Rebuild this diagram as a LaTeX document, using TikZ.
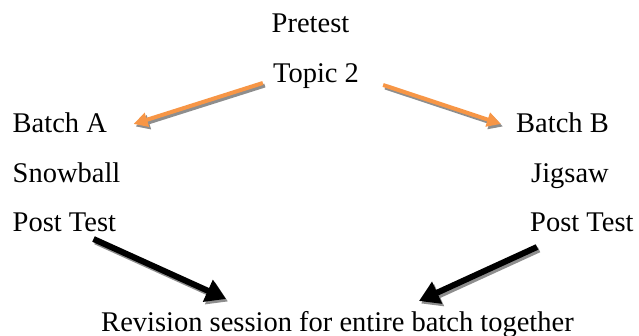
\documentclass[tikz,border=0pt]{standalone}
\usepackage{fontspec}
\setmainfont{Liberation Serif}
\usetikzlibrary{arrows.meta,calc}
\definecolor{arrorange}{HTML}{F79646}
\definecolor{shadowgray}{HTML}{8E8E8E}
\tikzset{
  lbl/.style={inner sep=0pt, font=\fontsize{28.5}{34}\selectfont},
  oarrow/.style={draw=arrorange, line width=4pt, -{Triangle[length=14pt,width=14pt]}},
  oshadow/.style={draw=shadowgray, line width=4pt, -{Triangle[length=14pt,width=14pt]}},
  barrow/.style={draw=black, line width=6pt, -{Triangle[length=20pt,width=23pt]}},
  bshadow/.style={draw=shadowgray, line width=6pt, -{Triangle[length=20pt,width=23pt]}}
}
\begin{document}
\begin{tikzpicture}[x=1pt,y=-1pt]
\useasboundingbox (0,0) rectangle (639,336);
\node[lbl, anchor=base] (pretest) at (310.5,33) {Pretest};
\node[lbl, anchor=base] (topic) at (316,83) {Topic 2};
\node[lbl, anchor=base west] (batchA) at (12.5,133) {Batch A};
\node[lbl, anchor=base west] (snow) at (12.5,183) {Snowball};
\node[lbl, anchor=base west] (postA) at (12.5,232) {Post Test};
\node[lbl, anchor=base west] (batchB) at (516,133) {Batch B};
\node[lbl, anchor=base west] (jig) at (531,183) {Jigsaw};
\node[lbl, anchor=base west] (postB) at (530,232) {Post Test};
\node[lbl, anchor=base] (rev) at (337.5,331) {Revision session for entire batch together};
% arrow end points
\coordinate (s1) at ($(topic.base west)+(-10,0)$);
\coordinate (t1) at ($(batchA.base east)+(26.5,-9)$);
\coordinate (s2) at ($(topic.base east)+(24,2)$);
\coordinate (t2) at ($(batchB.base west)+(-15,-9)$);
\coordinate (s3) at ($(postA.base west)+(81,7)$);
\coordinate (t3) at ($(rev.base west)+(125,-32)$);
\coordinate (s4) at ($(postB.base west)+(7,15)$);
\coordinate (t4) at ($(rev.base east)+(-155,-30)$);
% shadows
\draw[oshadow] ([shift={(2,2.5)}]s1) -- ([shift={(2,2.5)}]t1);
\draw[oshadow] ([shift={(2,2.5)}]s2) -- ([shift={(2,2.5)}]t2);
\draw[bshadow] ([shift={(2,2.5)}]s3) -- ([shift={(2,2.5)}]t3);
\draw[bshadow] ([shift={(2,2.5)}]s4) -- ([shift={(2,2.5)}]t4);
% arrows
\draw[oarrow] (s1) -- (t1);
\draw[oarrow] (s2) -- (t2);
\draw[barrow] (s3) -- (t3);
\draw[barrow] (s4) -- (t4);
\end{tikzpicture}
\end{document}
